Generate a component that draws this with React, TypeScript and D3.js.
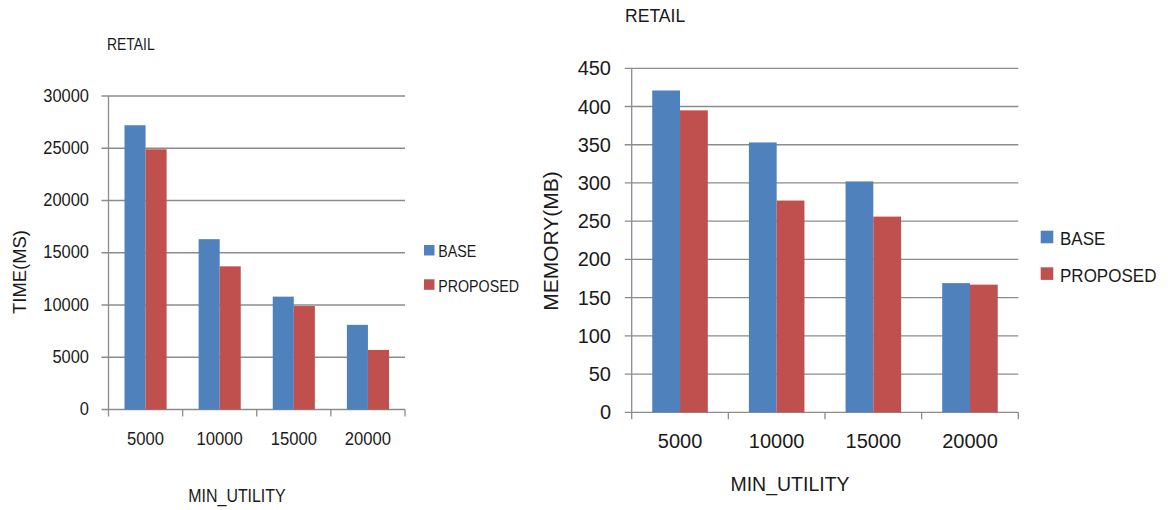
import * as d3 from 'd3'

// data
const categories = ['5000', '10000', '15000', '20000']
const seriesNames = ['BASE', 'PROPOSED']
const colors = ['#4F81BD', '#C0504D']

const timeBase = [27200, 16300, 10800, 8100]
const timeProposed = [24900, 13700, 9900, 5700]
const timeTicks = [0, 5000, 10000, 15000, 20000, 25000, 30000]

const memBase = [421, 353, 302, 169]
const memProposed = [395, 277, 256, 167]
const memTicks = [0, 50, 100, 150, 200, 250, 300, 350, 400, 450]

const FONT = '"Liberation Sans", Arial, sans-serif'
const TEXT = '#1a1a1a'
const GRID = '#8c8c8c'

// font size + horizontal squeeze, the original font is narrower than Liberation
type Font = { size: number, sx: number }

const Txt = ({ x, y, f, anchor = 'start', baseline, rotate = 0, children }:
    { x: number, y: number, f: Font, anchor?: string, baseline?: string, rotate?: number, children: any }) => (
    <text transform={`translate(${x},${y}) rotate(${rotate}) scale(${f.sx},1)`} fontSize={f.size}
        textAnchor={anchor} dominantBaseline={baseline}>{children}</text>
)

type Layout = {
    x0: number, x1: number, yTop: number, yBottom: number, pad: number,
    tick: Font, tickRight: number, xLabelY: number, xLabel: Font,
    title: { x: number, y: number, f: Font },
    yTitle: { x: number, y: number, f: Font, text: string },
    xTitle: { x: number, y: number, f: Font },
    legend: { x: number, y: number, sq: number, gap: number, textX: number, base: number, f: Font }
}

const BarChart = ({ values, ticks, layout }: { values: number[][], ticks: number[], layout: Layout }) => {
    const L = layout
    const x = d3.scaleBand().domain(categories).range([L.x0, L.x1]).padding(0)
    const inner = d3.scaleBand().domain(seriesNames).range([0, x.bandwidth()])
        .paddingInner(0).paddingOuter(L.pad)
    const y = d3.scaleLinear().domain([0, ticks[ticks.length - 1]]).range([L.yBottom, L.yTop])
    const bounds = [...categories.map(c => x(c)!), L.x1]

    return (
        <g fontFamily={FONT} fill={TEXT}>
            <Txt x={L.title.x} y={L.title.y} f={L.title.f}>RETAIL</Txt>

            {/* gridlines + y ticks */}
            {ticks.map(t => (
                <g key={t}>
                    <line x1={L.x0 - 7} x2={L.x1} y1={y(t)} y2={y(t)} stroke={GRID} strokeWidth={1.3} />
                    <Txt x={L.tickRight} y={y(t)} f={L.tick} anchor="end" baseline="central">{t}</Txt>
                </g>
            ))}
            <line x1={L.x0} x2={L.x0} y1={L.yTop} y2={L.yBottom} stroke={GRID} strokeWidth={1.3} />
            {bounds.map((b, i) => (
                <line key={i} x1={b} x2={b} y1={L.yBottom} y2={L.yBottom + 7} stroke={GRID} strokeWidth={1.3} />
            ))}

            {/* bars */}
            {categories.map((c, i) => seriesNames.map((s, j) => (
                <rect key={c + s} x={x(c)! + inner(s)!} width={inner.bandwidth()}
                    y={y(values[j][i])} height={L.yBottom - y(values[j][i])} fill={colors[j]} />
            )))}

            {categories.map(c => (
                <Txt key={c} x={x(c)! + x.bandwidth() / 2} y={L.xLabelY} f={L.xLabel} anchor="middle">{c}</Txt>
            ))}

            <Txt x={L.xTitle.x} y={L.xTitle.y} f={L.xTitle.f} anchor="middle">MIN_UTILITY</Txt>
            <Txt x={L.yTitle.x} y={L.yTitle.y} f={L.yTitle.f} anchor="middle" baseline="central"
                rotate={-90}>{L.yTitle.text}</Txt>

            {/* legend */}
            {seriesNames.map((s, j) => (
                <g key={s}>
                    <rect x={L.legend.x} y={L.legend.y + j * L.legend.gap} width={L.legend.sq}
                        height={L.legend.sq} fill={colors[j]} />
                    <Txt x={L.legend.textX} y={L.legend.y + j * L.legend.gap + L.legend.base}
                        f={L.legend.f}>{s}</Txt>
                </g>
            ))}
        </g>
    )
}

const leftLayout: Layout = {
    x0: 108.5, x1: 405, yTop: 96, yBottom: 409.5, pad: 0.76,
    tick: { size: 17.5, sx: 0.94 }, tickRight: 89, xLabelY: 445, xLabel: { size: 17.5, sx: 0.95 },
    title: { x: 107, y: 50, f: { size: 16, sx: 0.87 } },
    yTitle: { x: 19, y: 272, f: { size: 19, sx: 0.97 }, text: 'TIME(MS)' },
    xTitle: { x: 237, y: 502, f: { size: 17.5, sx: 0.91 } },
    legend: { x: 424, y: 245, sq: 10.5, gap: 34.3, textX: 438.3, base: 12.3, f: { size: 16, sx: 0.89 } }
}

const rightLayout: Layout = {
    x0: 631.7, x1: 1018.3, yTop: 68.3, yBottom: 412.3, pad: 0.74,
    tick: { size: 20, sx: 1 }, tickRight: 611, xLabelY: 448, xLabel: { size: 20, sx: 1 },
    title: { x: 625, y: 22, f: { size: 18.5, sx: 0.95 } },
    yTitle: { x: 550, y: 241, f: { size: 21, sx: 1 }, text: 'MEMORY(MB)' },
    xTitle: { x: 790, y: 490.5, f: { size: 19.5, sx: 1 } },
    legend: { x: 1040.7, y: 230.7, sq: 12.6, gap: 36.6, textX: 1060, base: 14.6, f: { size: 18.5, sx: 0.92 } }
}

const App = () => {
    return (
        <svg width={1168} height={510} style={{ position: 'absolute', left: 0, top: 0, background: '#fff' }}>
            <BarChart values={[timeBase, timeProposed]} ticks={timeTicks} layout={leftLayout} />
            <BarChart values={[memBase, memProposed]} ticks={memTicks} layout={rightLayout} />
        </svg>
    )
}

export default App
